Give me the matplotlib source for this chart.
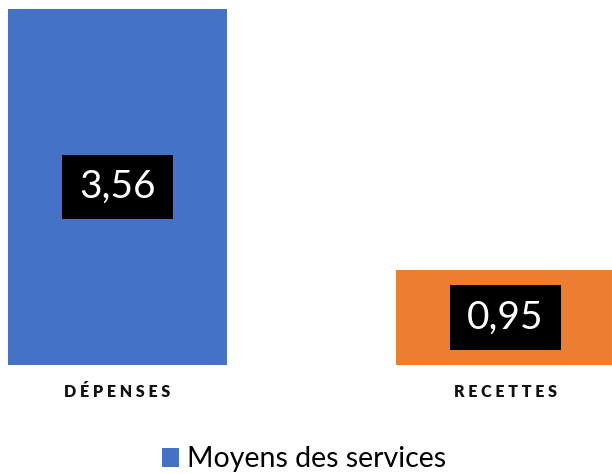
import matplotlib
matplotlib.use("Agg")
import matplotlib.pyplot as plt
from matplotlib.path import Path

# ── données ──
categories = ["DÉPENSES", "RECETTES"]
values = [3.56, 0.95]
value_labels = ["3,56", "0,95"]
series_name = "Moyens des services"
bar_colors = ["#4472C4", "#ED7D31"]

plt.rcParams["font.family"] = ["Lato", "DejaVu Sans"]


def label_box(x0, y0, width, height, mutation_size):
    """boîte noire des étiquettes (marges plus larges à l'horizontale)"""
    px = 0.45 * mutation_size
    py = 0.37 * mutation_size
    verts = [(x0 - px, y0 - py), (x0 + width + px, y0 - py),
             (x0 + width + px, y0 + height + py), (x0 - px, y0 + height + py),
             (x0 - px, y0 - py)]
    return Path(verts, closed=True)


def spaced(s):
    # espacement des lettres façon Excel
    return " ".join(s)


fig = plt.figure(figsize=(6.12, 4.74), dpi=100)
ax = fig.add_axes([0, 109 / 474, 1, 365 / 474])

xs = list(range(len(categories)))
ax.bar(xs, values, width=0.564, color=bar_colors, label=series_name)

for x, v, lab in zip(xs, values, value_labels):
    ax.text(x, v / 2, lab, ha="center", va="center", color="white",
            fontsize=28,
            bbox=dict(boxstyle=label_box, facecolor="black", edgecolor="none"))

ax.set_xlim(-0.3028, 1.2745)
ax.set_ylim(0, 3.65)
ax.set_xticks(xs)
ax.set_xticklabels([spaced(c) for c in categories], fontsize=11.5,
                   fontweight="heavy", color="#111111")
ax.tick_params(axis="x", length=0, pad=14)
ax.set_yticks([])
for sp in ax.spines.values():
    sp.set_visible(False)

fig.legend(loc="center", bbox_to_anchor=(0.497, 1 - 459.5 / 474),
           frameon=False, fontsize=20.5, handlelength=0.6, handleheight=0.6,
           handletextpad=0.3, borderpad=0, borderaxespad=0)

fig.savefig("out.png", dpi=100)
